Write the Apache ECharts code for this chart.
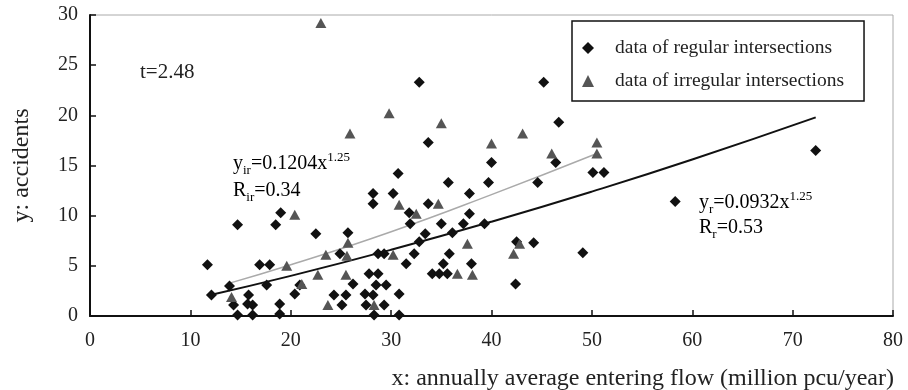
<!DOCTYPE html>
<html>
<head>
<meta charset="utf-8">
<script src="https://cdn.jsdelivr.net/npm/echarts@6/dist/echarts.min.js"></script>
<style>
html,body{margin:0;padding:0;background:#fff;}
#chart{width:908px;height:390px;}
</style>
</head>
<body>
<div id="chart"></div>
<script>
// Data: [x, y]
var regularPoints = [
  [11.7,5.1],[12.1,2.1],[13.9,3.0],[14.3,1.1],[14.7,0.1],[14.7,9.1],[15.8,2.1],[15.7,1.2],
  [16.2,1.1],[16.2,0.1],[16.9,5.1],[17.9,5.1],[17.6,3.1],[18.5,9.1],[19.0,10.3],[18.9,1.2],
  [18.9,0.2],[20.4,2.2],[20.9,3.1],[22.5,8.2],[24.3,2.1],[25.1,1.1],[25.5,2.1],[24.9,6.2],
  [25.7,8.3],[26.2,3.2],[27.4,2.2],[27.5,1.1],[27.8,4.2],[28.2,2.1],[28.3,0.1],[28.2,12.2],
  [28.2,11.2],[28.5,3.1],[28.7,4.2],[28.7,6.2],[29.3,6.2],[29.3,1.1],[29.5,3.1],[30.2,12.2],
  [30.7,14.2],[30.8,2.2],[30.8,0.1],[31.5,5.2],[31.8,10.3],[31.9,9.2],[32.3,6.2],[32.8,7.4],
  [32.8,23.3],[33.4,8.2],[33.7,17.3],[33.7,11.2],[34.1,4.2],[34.8,4.2],[35.6,4.2],[35.0,9.2],
  [35.2,5.2],[35.8,6.2],[35.7,13.3],[36.1,8.3],[37.2,9.2],[37.8,12.2],[37.8,10.2],[38.0,5.2],
  [39.3,9.2],[39.7,13.3],[40.0,15.3],[42.4,3.2],[42.5,7.4],[44.2,7.3],[44.6,13.3],[45.2,23.3],
  [46.4,15.3],[46.7,19.3],[49.1,6.3],[50.1,14.3],[51.2,14.3],[58.3,11.4],[72.3,16.5]
];
var irregularPoints = [
  [14.1,1.9],[19.6,5.0],[20.4,10.1],[21.1,3.2],[22.7,4.1],[23.0,29.2],[23.5,6.1],[23.7,1.1],
  [25.5,4.1],[25.6,6.0],[25.7,7.3],[25.9,18.2],[28.3,1.1],[29.8,20.2],[30.2,6.1],[30.8,11.1],
  [32.5,10.2],[34.7,11.2],[35.0,19.2],[36.6,4.2],[37.6,7.2],[38.1,4.1],[40.0,17.2],[42.2,6.2],
  [42.8,7.2],[43.1,18.2],[46.0,16.2],[50.5,17.3],[50.5,16.2]
];
// Trend lines, points
var regularTrend = [[12,2.1],[20,4.0],[30,6.6],[40,9.4],[50,12.4],[60,15.6],[72.3,19.8]];
var irregularTrend = [[14,3.3],[20,5.1],[30,8.4],[40,12.1],[50.5,16.2]];
var xTicks = [0,10,20,30,40,50,60,70,80];
var yTicks = [0,5,10,15,20,25,30];
var seriesNames = ['data of regular intersections','data of irregular intersections'];

var FONT = '"Liberation Serif","Times New Roman",serif';
var chart = echarts.init(document.getElementById('chart'), null, {renderer:'canvas'});
var rich = {
  n:{fontFamily:FONT,fontSize:20,color:'#222',verticalAlign:'middle'},
  s:{fontFamily:FONT,fontSize:13,color:'#222',verticalAlign:'bottom'},
  p:{fontFamily:FONT,fontSize:13,color:'#222',verticalAlign:'top'}
};
chart.setOption({
  backgroundColor:'#fff',
  animation:false,
  grid:{left:90,right:15,top:15,bottom:74,show:true,borderColor:'#aaa',borderWidth:1},
  xAxis:{
    type:'value',min:xTicks[0],max:xTicks[xTicks.length-1],interval:10,
    axisLine:{lineStyle:{color:'#111',width:2}},
    axisTick:{inside:true,length:6,lineStyle:{color:'#111',width:1.5}},
    axisLabel:{margin:15,fontFamily:FONT,fontSize:20,color:'#222'},
    splitLine:{show:false}
  },
  yAxis:{
    type:'value',min:yTicks[0],max:yTicks[yTicks.length-1],interval:5,
    name:'y: accidents',nameLocation:'middle',nameGap:56,
    nameTextStyle:{fontFamily:FONT,fontSize:24,color:'#222'},
    axisLine:{lineStyle:{color:'#111',width:2}},
    axisTick:{inside:true,length:6,lineStyle:{color:'#111',width:1.5}},
    axisLabel:{margin:12,fontFamily:FONT,fontSize:20,color:'#222'},
    splitLine:{show:false}
  },
  legend:{
    data:seriesNames,orient:'vertical',left:572,top:21,
    padding:[17,20,10,10],itemGap:13,itemWidth:12,itemHeight:12,
    borderColor:'#111',borderWidth:1.5,
    textStyle:{fontFamily:FONT,fontSize:19.5,color:'#222',padding:[0,0,0,16]}
  },
  series:[
    {name:'regTrend',type:'line',data:regularTrend,smooth:true,showSymbol:false,silent:true,
     lineStyle:{color:'#111',width:2},z:1},
    {name:'irrTrend',type:'line',data:irregularTrend,smooth:true,showSymbol:false,silent:true,
     lineStyle:{color:'#aaa',width:1.5},z:1},
    {name:seriesNames[0],type:'scatter',symbol:'diamond',symbolSize:[11,11],data:regularPoints,
     itemStyle:{color:'#111',opacity:1},z:3},
    {name:seriesNames[1],type:'scatter',symbol:'triangle',symbolSize:[11,10],data:irregularPoints,
     itemStyle:{color:'#555',opacity:1},z:4}
  ],
  graphic:[
    {type:'text',left:140,top:62,style:{text:'t=2.48',font:'21px '+FONT,fill:'#222'}},
    {type:'text',left:233,top:151,style:{text:'{n|y}{s|ir}{n|=0.1204x}{p|1.25}',rich:rich,lineHeight:26}},
    {type:'text',left:233,top:178,style:{text:'{n|R}{s|ir}{n|=0.34}',rich:rich,lineHeight:26}},
    {type:'text',left:699,top:190,style:{text:'{n|y}{s|r}{n|=0.0932x}{p|1.25}',rich:rich,lineHeight:26}},
    {type:'text',left:699,top:215,style:{text:'{n|R}{s|r}{n|=0.53}',rich:rich,lineHeight:26}},
    {type:'text',right:14,top:367,style:{text:'x: annually average entering flow (million pcu/year)',font:'24px '+FONT,fill:'#222'}}
  ]
});
</script>
</body>
</html>
